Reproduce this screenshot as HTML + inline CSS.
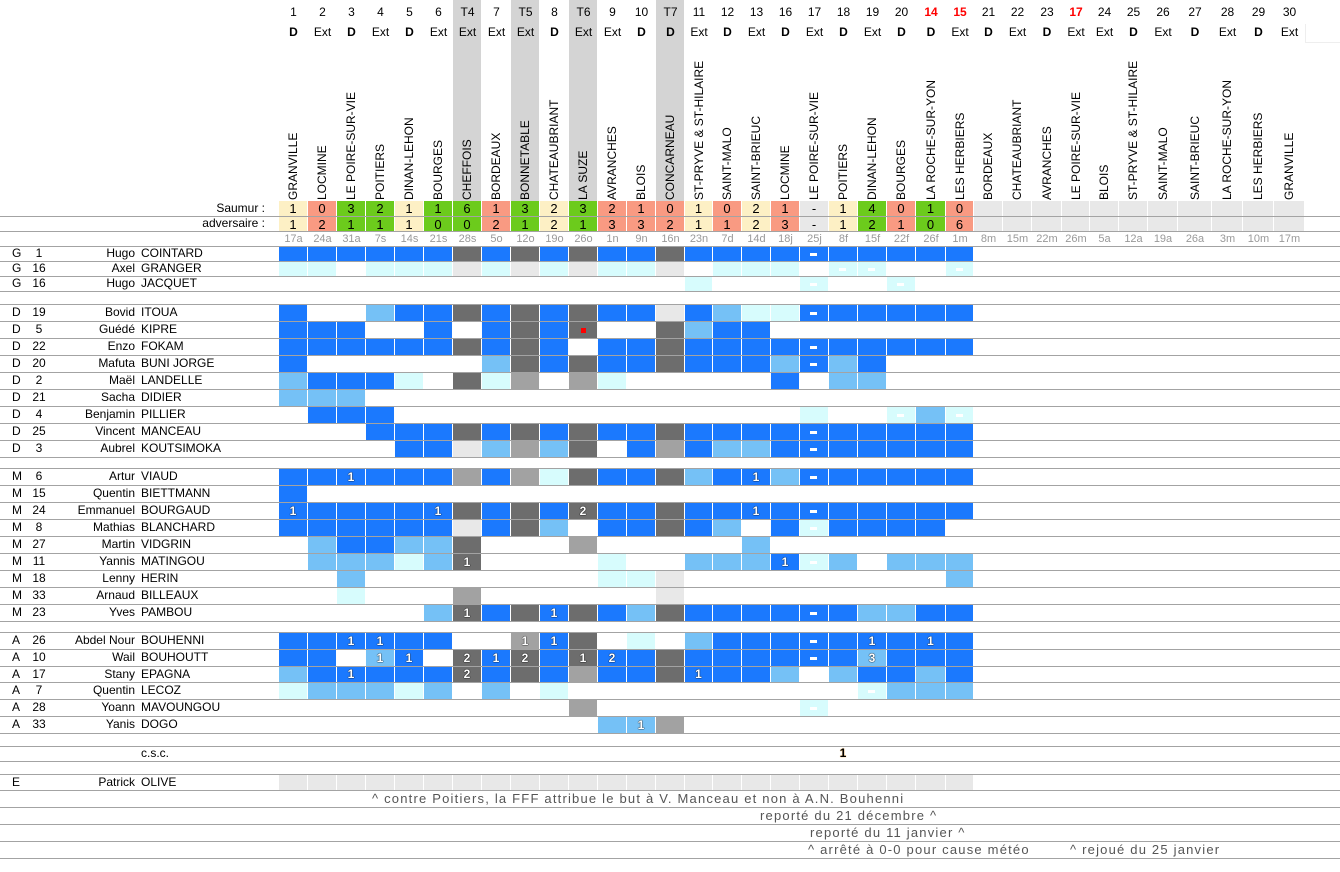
<!DOCTYPE html>
<html><head><meta charset="utf-8">
<style>
html,body{margin:0;padding:0;background:#fff;}
body{width:1340px;height:872px;position:relative;overflow:hidden;font-family:"Liberation Sans","DejaVu Sans",sans-serif;font-size:12px;color:#000;}
.a{position:absolute;}
.hl{position:absolute;left:0;width:1340px;height:1px;background:#a3a3a3;}
.c{position:absolute;text-align:center;color:#fff;font-weight:bold;font-size:12px;text-shadow:0 0 1px #000,0 0 1px #000;}
.vn{position:absolute;writing-mode:vertical-rl;transform:rotate(180deg);text-align:left;font-size:12px;white-space:nowrap;}
.t{position:absolute;white-space:nowrap;line-height:17px;}
.fn{font-size:13px;letter-spacing:1.2px;color:#555;}
</style></head><body>
<div id="root"></div>
<script>
var L=[279,308,337,366,395,424,453,482,511,540,569,598,627,656,685,713,742,771,800,829,858,887,916,946,974,1003,1032,1062,1090,1119,1148,1178,1212,1243,1274,1305];
var H=[];
function add(s){H.push(s);}
var nums=["1","2","3","4","5","6","T4","7","T5","8","T6","9","10","T7","11","12","13","16","17","18","19","20","14","15","21","22","23","17","24","25","26","27","28","29","30"];
var red={22:1,23:1,27:1};
var de="D Ext D Ext D Ext Ext Ext Ext D Ext Ext D D Ext D Ext D Ext D Ext D D Ext D Ext D Ext Ext D Ext D Ext D Ext".split(" ");
var teams=["GRANVILLE","LOCMINE","LE POIRE-SUR-VIE","POITIERS","DINAN-LEHON","BOURGES","CHEFFOIS","BORDEAUX","BONNETABLE","CHATEAUBRIANT","LA SUZE","AVRANCHES","BLOIS","CONCARNEAU","ST-PRYVE &amp; ST-HILAIRE","SAINT-MALO","SAINT-BRIEUC","LOCMINE","LE POIRE-SUR-VIE","POITIERS","DINAN-LEHON","BOURGES","LA ROCHE-SUR-YON","LES HERBIERS","BORDEAUX","CHATEAUBRIANT","AVRANCHES","LE POIRE-SUR-VIE","BLOIS","ST-PRYVE &amp; ST-HILAIRE","SAINT-MALO","SAINT-BRIEUC","LA ROCHE-SUR-YON","LES HERBIERS","GRANVILLE"];
var dates="17a 24a 31a 7s 14s 21s 28s 5o 12o 19o 26o 1n 9n 16n 23n 7d 14d 18j 25j 8f 15f 22f 26f 1m 8m 15m 22m 26m 5a 12a 19a 26a 3m 10m 17m".split(" ");
var sa="1 0 3 2 1 1 6 1 3 2 3 2 1 0 1 0 2 1 - 1 4 0 1 0".split(" ");
var ad="1 2 1 1 1 0 0 2 1 2 1 3 3 2 1 1 2 3 - 1 2 1 0 6".split(" ");
for(var i=0;i<35;i++){
  var x=L[i],w=L[i+1]-L[i];
  if(nums[i][0]=="T") add('<div class="a" style="left:'+x+'px;top:0;width:'+(w-1)+'px;height:201px;background:#d4d4d4"></div>');
  add('<div class="a" style="left:'+x+'px;top:5px;width:'+w+'px;text-align:center;font-size:12px;'+(red[i]?'color:#f00;font-weight:bold;':'')+'">'+nums[i]+'</div>');
  add('<div class="a" style="left:'+x+'px;top:25px;width:'+w+'px;text-align:center;font-size:12px;'+(de[i]=="D"?'font-weight:bold;':'')+'">'+de[i]+'</div>');
  add('<div class="vn" style="left:'+x+'px;top:40px;width:'+w+'px;line-height:'+w+'px;height:160px;">'+teams[i]+'</div>');
  var bg="#e8e8e8",s1="",s2="";
  if(i<24){s1=sa[i];s2=ad[i];
    if(s1=="-")bg="#e8e8e8";else{var a=+s1,b=+s2;bg=a>b?"#6ccb1c":(a<b?"#f99a82":"#fdf0c5");}}
  add('<div class="a" style="left:'+x+'px;top:201px;width:'+(w-1)+'px;height:15px;background:'+bg+';text-align:center;font-size:13px;line-height:15px">'+s1+'</div>');
  add('<div class="a" style="left:'+x+'px;top:217px;width:'+(w-1)+'px;height:14px;background:'+bg+';text-align:center;font-size:13px;line-height:15px">'+s2+'</div>');
  add('<div class="a" style="left:'+x+'px;top:232px;width:'+w+'px;height:14px;text-align:center;font-size:11px;color:#999;line-height:15px">'+dates[i]+'</div>');
}
add('<div class="a" style="left:1305px;top:24px;width:35px;height:18px;border-left:1px solid #eee;border-bottom:1px solid #eee"></div>');
add('<div class="t" style="right:1075px;top:201px;line-height:15px">Saumur :</div>');
add('<div class="t" style="right:1075px;top:216px;line-height:15px">adversaire :</div>');
var lines=[216,231,246,261,276,291,304,321,338,355,372,389,406,423,440,457,468,485,502,519,536,553,570,587,604,621,632,649,666,682,699,716,733,746,761,774,790,807,824,841,858];
lines.forEach(function(y){add('<div class="hl" style="top:'+y+'px"></div>');});
var col={B:"#1b79fe",L:"#75c1f6",C:"#d7fcfd",G:"#6d6d6d",M:"#a2a2a2",E:"#e8e8e8"};
var rows=[
["G","1","Hugo","COINTARD",246,"B B B B B B G B G B G B B G B B B B B- B B B B B"],
["G","16","Axel","GRANGER",261,"C C . C C C E C E C E C C E . C C C . C- C- . . C-"],
["G","16","Hugo","JACQUET",276,". . . . . . . . . . . . . . C . . . C- . . C- . ."],
["D","19","Bovid","ITOUA",304,"B . . L B B G B G B G B B E B L C C B- B B B B B"],
["D","5","Guédé","KIPRE",321,"B B B . . B . B G B Gr . . G L B B . . . . . . ."],
["D","22","Enzo","FOKAM",338,"B B B B B B G B G B . B B G B B B B B- B B B B B"],
["D","20","Mafuta","BUNI JORGE",355,"B . . . . . . L G B G B B G B B B L B- L B . . ."],
["D","2","Maël","LANDELLE",372,"L B B B C . G C M . M C . . . . . B . L L . . ."],
["D","21","Sacha","DIDIER",389,"L L L"],
["D","4","Benjamin","PILLIER",406,". B B B . . . . . . . . . . . . . . C . . C- L C-"],
["D","25","Vincent","MANCEAU",423,". . . B B B G B G B G B B G B B B B B- B B B B B"],
["D","3","Aubrel","KOUTSIMOKA",440,". . . . B B E L M L G . B M B L L B B- B B B B B"],
["M","6","Artur","VIAUD",468,"B B B1 B B B M B M C G B B G L B B1 L B- B B B B B"],
["M","15","Quentin","BIETTMANN",485,"B"],
["M","24","Emmanuel","BOURGAUD",502,"B1 B B B B B1 G B G B G2 B B G B B B1 B B- B B B B B"],
["M","8","Mathias","BLANCHARD",519,"B B B B B B E B G L . B B G B L . B C- B B B B ."],
["M","27","Martin","VIDGRIN",536,". L B B L L G . . . M . . . . . L . . . . . . ."],
["M","11","Yannis","MATINGOU",553,". L L L C L G1 . . . . C . . L L L B1 C- L . L L L"],
["M","18","Lenny","HERIN",570,". . L . . . . . . . . C C E . . . . . . . . . L"],
["M","33","Arnaud","BILLEAUX",587,". . C . . . M . . . . . . E"],
["M","23","Yves","PAMBOU",604,". . . . . L G1 B G B1 G B L G B B B B B- B L L B B"],
["A","26","Abdel Nour","BOUHENNI",632,"B B B1 B1 B B . . M1 B1 G . C . L B B B B- B B1 B B1 B"],
["A","10","Wail","BOUHOUTT",649,"B B . L1 B1 . G2 B1 G2 B G1 B2 B G B B B B B- B L3 B B B"],
["A","17","Stany","EPAGNA",666,"L B B1 B B B G2 B G B M B B G B1 B B L . L B B L B"],
["A","7","Quentin","LECOZ",682,"C L L L C L . L . C . . . . . . . . . . C- L L L"],
["A","28","Yoann","MAVOUNGOU",699,". . . . . . . . . . M . . . . . . . C- . . . . ."],
["A","33","Yanis","DOGO",716,". . . . . . . . . . . L L1 M . . . . . . . . . ."],
["E","","Patrick","OLIVE",774,"E E E E E E E E E E E E E E E E E E E E E E E E"]
];
var nextTop={};
for(var k=0;k<lines.length-1;k++)nextTop[lines[k]]=lines[k+1];
rows.forEach(function(r){
  var top=r[4],bot=nextTop[top],h=bot-top-1;
  add('<div class="t" style="left:12px;top:'+top+'px;line-height:'+(h+1)+'px">'+r[0]+'</div>');
  add('<div class="t" style="left:25px;width:28px;text-align:center;top:'+top+'px;line-height:'+(h+1)+'px">'+r[1]+'</div>');
  add('<div class="t" style="right:1205px;top:'+top+'px;line-height:'+(h+1)+'px">'+r[2]+'</div>');
  add('<div class="t" style="left:141px;top:'+top+'px;line-height:'+(h+1)+'px">'+r[3]+'</div>');
  var tk=r[5].split(" ");
  for(var i=0;i<tk.length;i++){
    var t=tk[i];if(t==".")continue;
    var c=col[t[0]],lab=t.substr(1),x=L[i],w=L[i+1]-L[i]-1;
    var inner="";
    if(lab=="r")inner='<div class="a" style="left:'+(w/2-2)+'px;top:'+(h/2-2)+'px;width:5px;height:5px;background:#f00"></div>';
    else if(lab=="-")inner='<div class="a" style="left:'+(w/2-4)+'px;top:'+(h/2-1)+'px;width:7px;height:3px;background:#fff"></div>';
    else if(lab)inner=lab;
    add('<div class="c" style="left:'+x+'px;top:'+(top+1)+'px;width:'+w+'px;height:'+h+'px;line-height:'+h+'px;background:'+c+'">'+inner+'</div>');
  }
});
add('<div class="t" style="left:130px;width:50px;text-align:center;top:746px;line-height:15px">c.s.c.</div>');
add('<div class="t" style="left:829px;width:28px;text-align:center;top:746px;line-height:15px;font-weight:bold;text-shadow:0 0 1px #f90">1</div>');
add('<div class="t fn" style="left:372px;top:790px;">^ contre Poitiers, la FFF attribue le but à V. Manceau et non à A.N. Bouhenni</div>');
add('<div class="t fn" style="left:760px;top:807px;">reporté du 21 décembre ^</div>');
add('<div class="t fn" style="left:810px;top:824px;">reporté du 11 janvier ^</div>');
add('<div class="t fn" style="left:808px;top:841px;">^ arrêté à 0-0 pour cause météo</div>');
add('<div class="t fn" style="left:1070px;top:841px;">^ rejoué du 25 janvier</div>');
document.getElementById("root").innerHTML=H.join("");
</script>
</body></html>
